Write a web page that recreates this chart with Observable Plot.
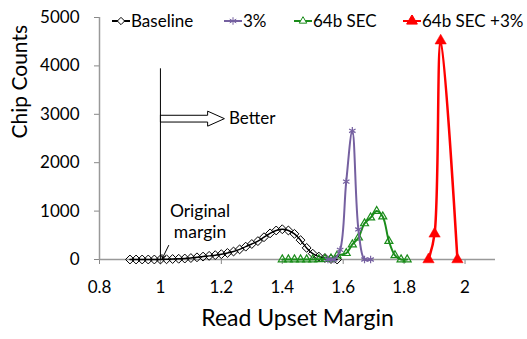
<!DOCTYPE html>
<html>
<head>
<meta charset="utf-8">
<script src="https://cdn.jsdelivr.net/npm/d3@7"></script>
<script src="https://cdn.jsdelivr.net/npm/@observablehq/plot@0.6"></script>
<style>
  body { margin: 0; background: #fff; }
  #wrap { position: relative; width: 527px; height: 339px; font-family: Lato, "Open Sans", sans-serif; }
  #legend { position: absolute; left: 0; top: 0; width: 527px; height: 30px; }
  .item { position: absolute; top: 10px; display: flex; align-items: center; font-size: 17px; color: #000; }
  .item svg { display: block; }
  svg.plot [aria-label$="-axis tick"], svg.plot .tick line { stroke: #888; }
</style>
</head>
<body>
<div id="wrap"><div id="legend"></div></div>
<script>
// ---- data ----
const baselineX = [0.90,0.92,0.94,0.96,0.98,1.00,1.02,1.04,1.06,1.08,1.10,1.12,1.14,1.16,1.18,1.20,1.22,1.24,1.26,1.28,1.30,1.32,1.34,1.36,1.38,1.40,1.42,1.44,1.46,1.48,1.50,1.52,1.54,1.56,1.58];
const baselineY = [0,0,0,0,0,0,5,10,15,20,30,45,60,75,90,110,135,165,210,265,320,380,460,540,600,625,600,530,400,240,120,60,30,10,0];
const pct3X = [1.55,1.57,1.59,1.61,1.63,1.65,1.67,1.69];
const pct3Y = [0,0,200,1610,2660,620,0,0];
const secX = [1.40,1.42,1.44,1.46,1.48,1.50,1.52,1.54,1.56,1.58,1.61,1.63,1.65,1.67,1.69,1.71,1.73,1.75,1.77,1.79,1.81];
const secY = [0,0,0,0,0,0,5,10,20,80,130,310,450,745,865,1000,885,380,85,0,0];
const sec3X = [1.88,1.90,1.92,1.975];
const sec3Y = [0,530,4520,0];
const seriesNames = ["Baseline","3%","64b SEC","64b SEC +3%"];
const seriesColors = ["#000000","#7560A0","#1A8C1A","#FF0000"];
const xTicks = [0.8,1.0,1.2,1.4,1.6,1.8,2.0];
const yTicks = [0,1000,2000,3000,4000,5000];
const xTitle = "Read Upset Margin";
const yTitle = "Chip Counts";
// annotations
const originalX = 1.0;
const originalTop = 3940;
const betterArrow = {x0: 1.0, head: 1.155, tip: 1.21, y: 2910, body: 70, headHalf: 155};
const betterLabel = "Better";
const originalLabel = "Original\nmargin";

const mk = (xs, ys) => xs.map((x, i) => ({x, y: ys[i]}));
const baseline = mk(baselineX, baselineY);
const pct3 = mk(pct3X, pct3Y);
const sec = mk(secX, secY);
const sec3 = mk(sec3X, sec3Y);

const a = betterArrow;
const arrowPoly = [
  {x: a.x0, y: a.y + a.body}, {x: a.head, y: a.y + a.body}, {x: a.head, y: a.y + a.headHalf},
  {x: a.tip, y: a.y}, {x: a.head, y: a.y - a.headHalf}, {x: a.head, y: a.y - a.body},
  {x: a.x0, y: a.y - a.body}, {x: a.x0, y: a.y + a.body}
];

const curve = "catmull-rom";
const chart = Plot.plot({
  width: 527, height: 339,
  marginLeft: 99, marginRight: 32, marginTop: 17, marginBottom: 80,
  style: {fontFamily: "Lato, 'Open Sans', sans-serif", fontSize: "17px", color: "#000", background: "#fff"},
  x: {domain: [0.8, 2.1], ticks: xTicks, tickFormat: d => String(+d.toFixed(1)), tickSize: 5, tickPadding: 16, label: null},
  y: {domain: [0, 5000], ticks: yTicks, tickFormat: d => String(d), tickSize: 5, tickPadding: 15, label: null},
  marks: [
    Plot.ruleY([0], {stroke: "#999", strokeWidth: 1.5}),
    Plot.ruleX([0.8], {stroke: "#999", strokeWidth: 1.5}),
    Plot.ruleX([originalX], {y1: 0, y2: originalTop, stroke: "#000", strokeWidth: 1}),
    Plot.line(arrowPoly, {x: "x", y: "y", stroke: "#000", fill: "#fff", strokeWidth: 1, curve: "linear"}),
    Plot.text([betterLabel], {x: a.tip + 0.015, y: a.y, text: d => d, textAnchor: "start", fontSize: 17}),
    Plot.text([originalLabel], {x: 1.13, y: 790, text: d => d, textAnchor: "middle", lineHeight: 1.2, fontSize: 17.5}),
    Plot.arrow([{x1: 1.027, y1: 290, x2: 1.006, y2: 20}], {x1: "x1", y1: "y1", x2: "x2", y2: "y2", stroke: "#000", strokeWidth: 1, headLength: 6}),
    Plot.line(baseline, {x: "x", y: "y", stroke: seriesColors[0], strokeWidth: 1.5, curve}),
    Plot.dot(baseline, {x: "x", y: "y", stroke: seriesColors[0], symbol: "diamond2", r: 4, strokeWidth: 1, fill: "none"}),
    Plot.line(sec, {x: "x", y: "y", stroke: seriesColors[2], strokeWidth: 2, curve}),
    Plot.dot(sec, {x: "x", y: "y", stroke: seriesColors[2], symbol: "triangle2", r: 3.8, strokeWidth: 1.2, fill: "none"}),
    Plot.line(pct3, {x: "x", y: "y", stroke: seriesColors[1], strokeWidth: 2, curve}),
    Plot.dot(pct3, {x: "x", y: "y", stroke: seriesColors[1], symbol: "asterisk", r: 3.5, strokeWidth: 1.2}),
    Plot.line(sec3, {x: "x", y: "y", stroke: seriesColors[3], strokeWidth: 2.5, curve}),
    Plot.dot(sec3, {x: "x", y: "y", fill: seriesColors[3], stroke: seriesColors[3], symbol: "triangle", r: 4.2, strokeWidth: 0.5}),
    Plot.text([yTitle], {frameAnchor: "left", dx: -79, rotate: -90, text: d => d, fontSize: 21}),
    Plot.text([xTitle], {frameAnchor: "bottom", dy: 66, text: d => d, fontSize: 23})
  ]
});
chart.classList.add("plot");
document.getElementById("wrap").prepend(chart);

// legend
const legendPos = [112, 224, 294, 403];
const symbols = [d3.symbolDiamond2, d3.symbolAsterisk, d3.symbolTriangle2, d3.symbolTriangle];
const fills = ["none", "none", "none", seriesColors[3]];
const sizes = [34, 40, 40, 50];
const legend = document.getElementById("legend");
seriesNames.forEach((name, i) => {
  const div = document.createElement("div");
  div.className = "item";
  div.style.left = legendPos[i] + "px";
  const s = d3.create("svg").attr("width", 18).attr("height", 12);
  s.append("line").attr("x1", 0).attr("x2", 18).attr("y1", 6).attr("y2", 6).attr("stroke", seriesColors[i]).attr("stroke-width", 2);
  s.append("path").attr("d", d3.symbol(symbols[i], sizes[i])()).attr("transform", "translate(9,6)")
    .attr("stroke", seriesColors[i]).attr("fill", fills[i] === "none" ? "#fff" : fills[i]).attr("stroke-width", 1);
  div.appendChild(s.node());
  const t = document.createElement("span");
  t.textContent = name;
  t.style.marginLeft = "1px";
  div.appendChild(t);
  legend.appendChild(div);
});
</script>
</body>
</html>
